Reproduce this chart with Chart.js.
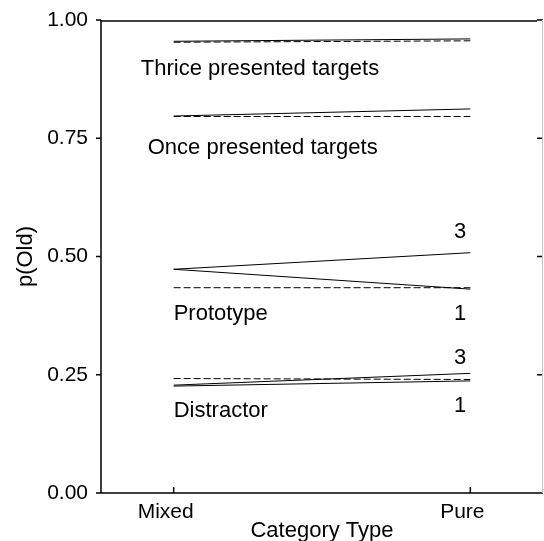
<!DOCTYPE html>
<html>
<head>
<meta charset="utf-8">
<script src="https://cdn.jsdelivr.net/npm/chart.js@4/dist/chart.umd.min.js"></script>
<style>
  html, body { margin: 0; padding: 0; background: #fff; }
  #wrap { width: 544px; height: 541px; }
</style>
</head>
<body>
<div id="wrap"><canvas id="chart" width="544" height="541"></canvas></div>
<script>
// Category positions on the x axis
const categories = ["Mixed", "Pure"];
const yTicks = [0, 0.25, 0.5, 0.75, 1];

// p(Old) values (solid = model/3, dashed = reference)
const thriceSolid = [0.955, 0.960];
const thriceDashed = [0.953, 0.956];
const onceSolid = [0.797, 0.812];
const onceDashed = [0.796, 0.796];
const protoSolid3 = [0.473, 0.508];
const protoSolid1 = [0.473, 0.431];
const protoDashed = [0.434, 0.434];
const distSolid3 = [0.228, 0.253];
const distSolid1 = [0.226, 0.237];
const distDashed = [0.242, 0.240];

const labelTexts = ["Thrice presented targets", "Once presented targets", "Prototype", "Distractor", "3", "1"];

function pts(vals) {
    return vals.map((v, i) => ({ x: i, y: v }));
}

function line(vals, dashed) {
    return {
        data: pts(vals),
        borderColor: "#000",
        borderWidth: 1,
        borderDash: dashed ? [7, 3] : [],
        pointRadius: 0,
        fill: false,
        tension: 0
    };
}

// Frame, ticks and text labels drawn in plot coordinates
const framePlugin = {
    id: "frame",
    afterDraw(chart) {
        const ctx = chart.ctx;
        const a = chart.chartArea;
        const xs = chart.scales.x, ys = chart.scales.y;
        ctx.save();
        ctx.lineWidth = 1.5;
        ctx.strokeStyle = "#000";
        ctx.beginPath();
        // left axis + bottom axis + top border
        ctx.moveTo(a.left, a.top);
        ctx.lineTo(a.left, a.bottom);
        ctx.lineTo(a.right, a.bottom);
        ctx.moveTo(a.left, a.top + 1);
        ctx.lineTo(a.right - 6, a.top + 1);
        // y ticks: outward on the left, inward on the right
        yTicks.forEach(v => {
            const py = ys.getPixelForValue(v);
            ctx.moveTo(a.left - 5, py);
            ctx.lineTo(a.left, py);
            if (v > 0) {
                ctx.moveTo(a.right - 6, py);
                ctx.lineTo(a.right, py);
            }
        });
        // x ticks pointing inward
        categories.forEach((c, i) => {
            const px = xs.getPixelForValue(i);
            ctx.moveTo(px, a.bottom);
            ctx.lineTo(px, a.bottom - 6);
        });
        ctx.stroke();
        // right border, light
        ctx.lineWidth = 1;
        ctx.strokeStyle = "#c8c8c8";
        ctx.beginPath();
        ctx.moveTo(a.right - 0.5, a.top);
        ctx.lineTo(a.right - 0.5, a.bottom);
        ctx.stroke();

        // text labels
        ctx.fillStyle = "#000";
        ctx.font = "22px 'Liberation Sans', Arial, sans-serif";
        ctx.textBaseline = "alphabetic";
        const put = (t, x, y, align) => {
            ctx.textAlign = align;
            ctx.fillText(t, xs.getPixelForValue(x), ys.getPixelForValue(y));
        };
        put(labelTexts[0], -0.111, 0.884, "left");
        put(labelTexts[1], -0.0875, 0.717, "left");
        put(labelTexts[2], 0, 0.366, "left");
        put(labelTexts[3], 0, 0.161, "left");
        put(labelTexts[4], 0.966, 0.539, "center");
        put(labelTexts[5], 0.966, 0.366, "center");
        put(labelTexts[4], 0.966, 0.273, "center");
        put(labelTexts[5], 0.966, 0.171, "center");
        ctx.restore();
    }
};

const ctx = document.getElementById("chart").getContext("2d");
new Chart(ctx, {
    type: "line",
    data: {
        datasets: [
            line(thriceDashed, true), line(thriceSolid, false),
            line(onceDashed, true), line(onceSolid, false),
            line(protoDashed, true), line(protoSolid3, false), line(protoSolid1, false),
            line(distDashed, true), line(distSolid3, false), line(distSolid1, false)
        ]
    },
    options: {
        responsive: false,
        animation: false,
        devicePixelRatio: 1,
        layout: { padding: { top: 20, right: 1, left: 0, bottom: 0 } },
        plugins: { legend: { display: false }, tooltip: { enabled: false } },
        scales: {
            x: {
                type: "linear",
                min: -0.245,
                max: 1.245,
                afterBuildTicks: s => { s.ticks = categories.map((c, i) => ({ value: i })); },
                afterFit: s => { s.height = 48; s.paddingLeft = 0; s.paddingRight = 0; },
                grid: { display: false, drawTicks: false },
                border: { display: false },
                ticks: {
                    callback: v => categories[v],
                    font: { family: "'Liberation Sans', Arial, sans-serif", size: 21 },
                    color: "#000",
                    padding: 7,
                    labelOffset: -8,
                    maxRotation: 0
                },
                title: {
                    display: true,
                    text: "Category Type",
                    font: { family: "'Liberation Sans', Arial, sans-serif", size: 22 },
                    color: "#000",
                    padding: { top: 0, bottom: -3 }
                }
            },
            y: {
                min: 0,
                max: 1,
                afterBuildTicks: s => { s.ticks = yTicks.map(v => ({ value: v })); },
                afterFit: s => { s.width = 101; s.paddingTop = 0; s.paddingBottom = 0; },
                grid: { display: false, drawTicks: false },
                border: { display: false },
                ticks: {
                    callback: v => v.toFixed(2),
                    font: { family: "'Liberation Sans', Arial, sans-serif", size: 21 },
                    color: "#000",
                    padding: 13
                },
                title: {
                    display: true,
                    text: "p(Old)",
                    font: { family: "'Liberation Sans', Arial, sans-serif", size: 22 },
                    color: "#000",
                    padding: { top: 13, bottom: 0 }
                }
            }
        }
    },
    plugins: [framePlugin]
});
</script>
</body>
</html>
